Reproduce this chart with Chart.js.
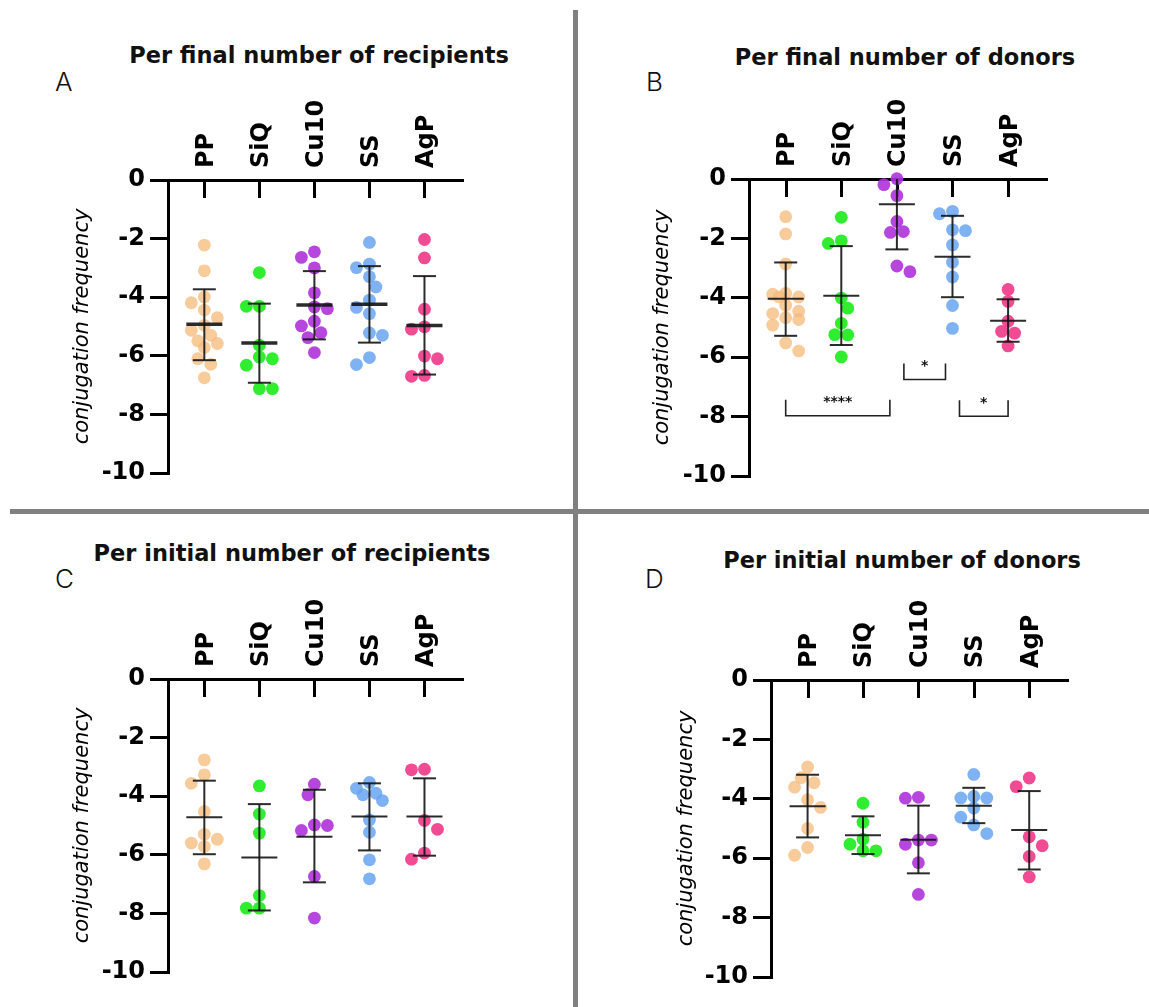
<!DOCTYPE html>
<html><head><meta charset="utf-8">
<script src="https://cdn.jsdelivr.net/npm/chart.js@4.4.1/dist/chart.umd.min.js"></script>
<style>
body{margin:0;background:#fff;}
#wrap{position:relative;width:1149px;height:1007px;overflow:hidden;background:#fff;}
canvas{position:absolute;}
.title{position:absolute;font-family:"DejaVu Sans",sans-serif;font-weight:700;font-size:22.5px;color:#111;transform:translate(-50%,-50%);white-space:nowrap;}
.letter{position:absolute;font-family:Inter,sans-serif;font-weight:300;font-size:26px;line-height:26px;color:#111;}
.vline{position:absolute;left:573px;top:10px;width:5px;height:997px;background:#808080;}
.hline{position:absolute;left:10px;top:509px;width:1139px;height:5px;background:#808080;}
</style></head>
<body><div id="wrap">
<div class="title" style="left:319px;top:55px">Per final number of recipients</div>
<div class="title" style="left:905px;top:57px">Per final number of donors</div>
<div class="title" style="left:292px;top:553px">Per initial number of recipients</div>
<div class="title" style="left:902px;top:560px">Per initial number of donors</div>
<div class="letter" style="left:55px;top:69px">A</div>
<div class="letter" style="left:646px;top:69px">B</div>
<div class="letter" style="left:55px;top:566px">C</div>
<div class="letter" style="left:645px;top:566px">D</div>
<canvas id="cA" width="575" height="505" style="left:0;top:0"></canvas>
<canvas id="cB" width="569" height="505" style="left:580px;top:0"></canvas>
<canvas id="cC" width="575" height="502" style="left:0;top:505px"></canvas>
<canvas id="cD" width="569" height="502" style="left:580px;top:505px"></canvas>
<div class="vline"></div><div class="hline"></div>
</div>
<script>
// ---------- DATA ----------
const categories = ['PP', 'SiQ', 'Cu10', 'SS', 'AgP'];
const yTicks = [0, -2, -4, -6, -8, -10];
const yTitle = 'conjugation frequency';

// A: per final number of recipients
const valuesA = [
  [-2.22, -3.10, -3.99, -4.19, -4.44, -4.70, -4.96, -5.13, -5.30, -5.49, -5.58, -5.72, -6.10, -6.29, -6.75],
  [-3.16, -4.31, -4.31, -5.64, -6.04, -6.10, -6.32, -7.12, -7.12],
  [-2.45, -2.64, -3.00, -3.85, -4.33, -4.39, -4.82, -4.98, -5.21, -5.38, -5.89],
  [-2.13, -2.87, -2.99, -3.30, -3.65, -4.10, -4.35, -4.56, -5.22, -5.30, -6.06, -6.30],
  [-2.03, -2.66, -4.41, -5.01, -5.09, -6.01, -6.10, -6.67, -6.70]
];
const meanA  = [-4.92, -5.56, -4.27, -4.24, -4.97];
const upperA = [-3.73, -4.22, -3.11, -2.94, -3.28];
const lowerA = [-6.15, -6.92, -5.44, -5.55, -6.64];

// B: per final number of donors
const valuesB = [
  [-1.27, -1.85, -2.86, -3.85, -3.88, -3.97, -3.97, -4.25, -4.45, -4.53, -4.67, -4.73, -4.92, -5.52, -5.79],
  [-1.29, -2.08, -2.17, -4.01, -4.35, -4.86, -5.24, -5.25, -5.99],
  [0.01, -0.19, -0.56, -1.43, -1.77, -1.80, -2.93, -3.12],
  [-1.09, -1.17, -1.71, -1.74, -2.22, -2.80, -3.30, -4.26, -5.03],
  [-3.72, -4.12, -4.79, -5.13, -5.19, -5.62]
];
const meanB  = [-4.03, -3.93, -0.85, -2.62, -4.77];
const upperB = [-2.81, -2.26, 0.66, -1.24, -4.05];
const lowerB = [-5.28, -5.59, -2.37, -3.98, -5.48];
const sigPairsB  = [[0, 2], [2, 3], [3, 4]];
const sigLevelsB = [-7.97, -6.75, -7.99];
const sigLabelsB = ['****', '*', '*'];

// C: per initial number of recipients
const valuesC = [
  [-2.76, -3.27, -3.56, -4.52, -5.30, -5.47, -5.60, -5.72, -6.31],
  [-3.65, -4.61, -5.26, -7.39, -7.82, -7.82],
  [-3.59, -3.95, -4.98, -5.00, -5.17, -6.74, -8.16],
  [-3.53, -3.73, -3.90, -3.95, -4.15, -4.81, -5.23, -6.17, -6.82],
  [-3.08, -3.10, -4.83, -5.13, -5.94, -6.15]
];
const meanC  = [-4.72, -6.09, -5.38, -4.69, -4.69];
const upperC = [-3.47, -4.27, -3.78, -3.56, -3.39];
const lowerC = [-5.98, -7.90, -6.94, -5.85, -6.03];

// D: per initial number of donors
const valuesD = [
  [-2.93, -3.29, -3.46, -3.61, -4.03, -4.29, -5.00, -5.64, -5.90],
  [-4.15, -4.79, -5.36, -5.53, -5.75, -5.75],
  [-3.95, -3.98, -5.39, -5.39, -5.53, -6.15, -7.22],
  [-3.18, -3.92, -3.97, -3.97, -4.31, -4.62, -4.88, -5.17],
  [-3.30, -3.59, -5.28, -5.58, -5.94, -6.63]
];
const meanD  = [-4.25, -5.23, -5.38, -4.23, -5.05];
const upperD = [-3.19, -4.59, -4.23, -3.63, -3.74];
const lowerD = [-5.30, -5.86, -6.51, -4.82, -6.38];

// ---------- STYLE / LAYOUT ----------
const colors = ['rgba(246,186,122,0.75)', 'rgba(25,235,25,0.9)', 'rgba(175,50,220,0.9)', 'rgba(105,165,240,0.85)', 'rgba(238,55,135,0.9)'];
const X_MIN = 0.34, X_MAX = 5.70;
const DOT_R = 6.4, SWARM_D = 11.5, SWARM_STEP = 6.5, SWARM_KMAX = 2;

const panels = [
  {canvas: 'cA', w: 575, h: 505, area: {l: 168, t: 180, r: 463, b: 473}, padL: 70, values: valuesA, mean: meanA, upper: upperA, lower: lowerA, meanW: 3.5},
  {canvas: 'cB', w: 569, h: 505, area: {l: 169, t: 179, r: 467, b: 476}, padL: 70, values: valuesB, mean: meanB, upper: upperB, lower: lowerB, meanW: 2,
   sig: {pairs: sigPairsB, levels: sigLevelsB, labels: sigLabelsB}},
  {canvas: 'cC', w: 575, h: 502, area: {l: 168, t: 174, r: 463, b: 467}, padL: 70, values: valuesC, mean: meanC, upper: upperC, lower: lowerC, meanW: 2},
  {canvas: 'cD', w: 569, h: 502, area: {l: 191, t: 175, r: 488, b: 472}, padL: 94, values: valuesD, mean: meanD, upper: upperD, lower: lowerD, meanW: 2}
];

// beeswarm offsets in pixels (layout only)
function swarm(vals, pxPerY) {
  const order = vals.map((v, i) => i).sort((a, b) => vals[b] - vals[a]);
  const placed = [], off = new Array(vals.length).fill(0);
  let flip = 1;
  order.forEach(i => {
    const y = -vals[i] * pxPerY;
    const cands = [0];
    for (let k = 1; k <= SWARM_KMAX; k++) cands.push(-flip * k * SWARM_STEP, flip * k * SWARM_STEP);
    let best = null, bestD = -1;
    for (const c of cands) {
      const d = placed.length ? Math.min(...placed.map(p => Math.hypot(p.x - c, p.y - y))) : 1e9;
      if (d >= SWARM_D) { best = c; bestD = d; break; }
      if (d > bestD + 0.5) { bestD = d; best = c; }
    }
    off[i] = best; placed.push({x: best, y});
    if (best !== 0) flip = -flip;
  });
  return off;
}

const errorBarPlugin = {
  id: 'errorBars',
  beforeDatasetsDraw(chart, args, o) {
    const {ctx, scales: {x}, chartArea} = chart;
    ctx.save();
    ctx.strokeStyle = '#000'; ctx.lineWidth = 3;
    categories.forEach((c, i) => {
      const px = Math.round(x.getPixelForValue(i + 1)) + 0.5;
      ctx.beginPath(); ctx.moveTo(px, chartArea.top); ctx.lineTo(px, chartArea.top + 18); ctx.stroke();
    });
    ctx.restore();
  },
  afterDatasetsDraw(chart, args, o) {
    const {ctx, scales: {x, y}, chartArea} = chart;
    ctx.save();
    ctx.strokeStyle = 'rgba(20,20,20,0.9)';
    const seg = (x1, y1, x2, y2) => { ctx.beginPath(); ctx.moveTo(x1, y1); ctx.lineTo(x2, y2); ctx.stroke(); };
    o.mean.forEach((m, i) => {
      const cx = x.getPixelForValue(i + 1);
      const up = o.upper[i], lo = o.lower[i];
      const yt = Math.max(y.getPixelForValue(up), chartArea.top);
      const yb = y.getPixelForValue(lo);
      const ym = y.getPixelForValue(m);
      ctx.lineWidth = 2;
      seg(cx, yt, cx, yb);
      if (up <= 0) seg(cx - 11.5, yt, cx + 11.5, yt);
      seg(cx - 11.5, yb, cx + 11.5, yb);
      ctx.lineWidth = o.meanW;
      seg(cx - 18, ym, cx + 18, ym);
    });
    if (o.sig) {
      ctx.lineWidth = 1.6; ctx.strokeStyle = '#222'; ctx.fillStyle = '#111';
      ctx.font = 'bold 14px "DejaVu Sans"'; ctx.textAlign = 'center'; ctx.textBaseline = 'middle';
      const ends = o.sig.pairs.flat();
      o.sig.pairs.forEach((p, k) => {
        const shared = v => ends.filter(e => e === v).length > 1;
        const x1 = x.getPixelForValue(p[0] + 1) + (shared(p[0]) ? 7 : 0);
        const x2 = x.getPixelForValue(p[1] + 1) - (shared(p[1]) ? 7 : 0);
        const yb = y.getPixelForValue(o.sig.levels[k]);
        const yt = yb - 16;
        ctx.beginPath(); ctx.moveTo(x1, yt); ctx.lineTo(x1, yb); ctx.lineTo(x2, yb); ctx.lineTo(x2, yt); ctx.stroke();
        ctx.fillText(o.sig.labels[k], (x1 + x2) / 2, yt + 3);
      });
    }
    ctx.restore();
  }
};

panels.forEach(P => {
  const a = P.area;
  const pxPerX = (a.r - a.l) / (X_MAX - X_MIN);
  const pxPerY = (a.b - a.t) / 10;
  const datasets = P.values.map((vals, i) => {
    const off = swarm(vals, pxPerY);
    return {
      label: categories[i],
      data: vals.map((v, j) => ({x: i + 1 + off[j] / pxPerX, y: v})),
      backgroundColor: colors[i], borderWidth: 0,
      pointRadius: DOT_R, pointHoverRadius: DOT_R, clip: false
    };
  });
  new Chart(document.getElementById(P.canvas), {
    type: 'scatter',
    data: {datasets},
    plugins: [errorBarPlugin],
    options: {
      responsive: false, animation: false, events: [], devicePixelRatio: 1,
      layout: {padding: {left: P.padL, top: 0, right: P.w - a.r, bottom: P.h - a.b}},
      plugins: {
        legend: {display: false}, tooltip: {enabled: false},
        errorBars: {mean: P.mean, upper: P.upper, lower: P.lower, meanW: P.meanW, sig: P.sig}
      },
      scales: {
        x: {
          type: 'linear', position: 'top', min: X_MIN, max: X_MAX,
          afterBuildTicks: s => { s.ticks = categories.map((c, i) => ({value: i + 1})); },
          ticks: {autoSkip: false, minRotation: 90, maxRotation: 90, padding: 12, labelOffset: 31, color: '#000',
                  font: {family: 'DejaVu Sans', weight: 'bold', size: 24},
                  callback: v => categories[Math.round(v) - 1]},
          grid: {display: true, drawOnChartArea: false, drawTicks: false},
          border: {display: true, color: '#000', width: 3},
          afterFit: s => { s.height = a.t; }
        },
        y: {
          type: 'linear', position: 'left', min: -10, max: 0,
          afterBuildTicks: s => { s.ticks = yTicks.slice().reverse().map(v => ({value: v})); },
          ticks: {color: '#000', padding: 5, font: {family: 'DejaVu Sans', weight: 'bold', size: 24}},
          grid: {drawOnChartArea: false, drawTicks: true, tickLength: 18, tickWidth: 3, tickColor: '#000', lineWidth: 3},
          border: {display: true, color: '#000', width: 3},
          title: {display: true, text: yTitle, color: '#000', padding: 0,
                  font: {family: 'DejaVu Sans', style: 'italic', size: 21}},
          afterFit: s => { s.width = a.l - P.padL; }
        }
      }
    }
  });
});
</script>
</body></html>
